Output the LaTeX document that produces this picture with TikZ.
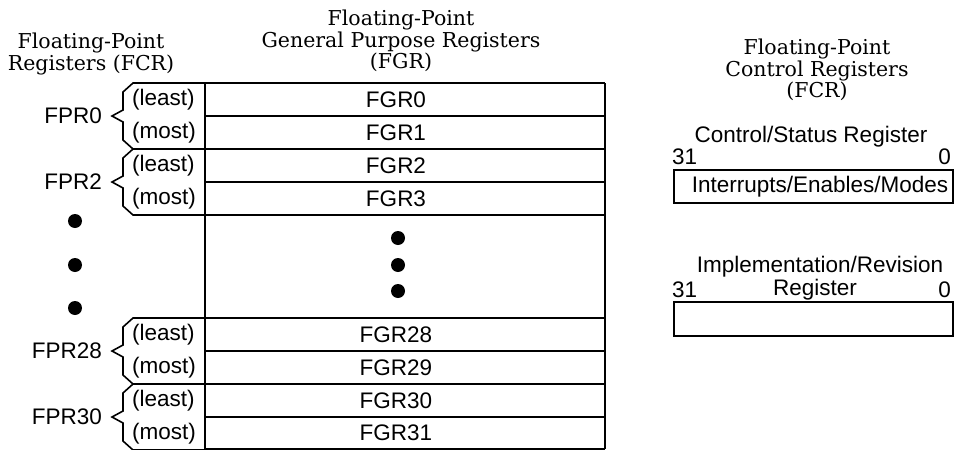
\documentclass[tikz,border=0pt]{standalone}
\usepackage{fontspec}
\setmainfont{DejaVu Serif}
\setsansfont{Liberation Sans}
\usepackage{tikz}

\tikzset{
  lbl/.style={font=\sffamily\fontsize{22.5}{24}\selectfont, inner sep=0pt},
  head/.style={font=\fontsize{20.5}{21.5}\selectfont, align=center, inner sep=0pt},
  regline/.style={line width=1.6pt},
  bracepath/.style={line width=1.6pt, line join=miter}
}

\begin{document}
\begin{tikzpicture}[x=1pt, y=-1pt]
  \useasboundingbox (0,0) rectangle (954,450);

  % headings
  \node[head] (fprhead) at (91,54) {Floating-Point\\Registers (FCR)};
  \node[head] (fgrhead) at (401,41) {Floating-Point\\General Purpose Registers\\(FGR)};
  \node[head] (fcrhead) at (817,70) {Floating-Point\\Control Registers\\(FCR)};

  \begin{scope}
    % general purpose register file
    \draw[regline] (205,83) -- (205,449);
    \draw[regline] (605,83) -- (605,449);
    \foreach \y in {83,116,149,182,215,318,351,384,417,449}
      \draw[regline] (205,\y) -- (605,\y);
    \foreach \n/\y in {0/99.5,1/132.5,2/165.5,3/198.5,28/334.5,29/367.5,30/400.5,31/433}
      \node[lbl] (fgr\n) at (396,\y) {FGR\n};

    % register pairs
    \foreach \n/\t in {0/83,2/149,28/318,30/384} {
      \draw[bracepath] (205,\t) -- (133,\t) -- (123,\t+9) -- (123,\t+27) -- (112,\t+33)
        -- (123,\t+39) -- (123,\t+57) -- (133,\t+66) -- (205,\t+66);
      \node[lbl, anchor=east] (fpr\n) at (102,\t+33) {FPR\n};
      \node[lbl, anchor=west] (least\n) at (132,\t+16.5) {(least)};
      \node[lbl, anchor=west] (most\n) at (132,\t+49.5) {(most)};
    }

    \fill (75,221) circle (7);
    \fill (75,265) circle (7);
    \fill (75,308) circle (7);
    \fill (398,238) circle (7);
    \fill (398,265) circle (7);
    \fill (398,291) circle (7);
  \end{scope}

  \begin{scope}
    % control registers
    \node[lbl] (csrtitle) at (811,137) {Control/Status Register};
    \node[lbl, anchor=west] (csrhi) at (672,157) {31};
    \node[lbl, anchor=east] (csrlo) at (951,157) {0};
    \draw[regline] (674,170) rectangle (953,203);
    \node[lbl] (csr) at (820,187) {Interrupts/Enables/Modes};

    \node[lbl] (irtitle) at (820,267) {Implementation/Revision};
    \node[lbl] (irtitleb) at (815,290) {Register};
    \node[lbl, anchor=west] (irhi) at (672,290) {31};
    \node[lbl, anchor=east] (irlo) at (951,290) {0};
    \draw[regline] (674,302) rectangle (953,336);
  \end{scope}

\end{tikzpicture}
\end{document}
